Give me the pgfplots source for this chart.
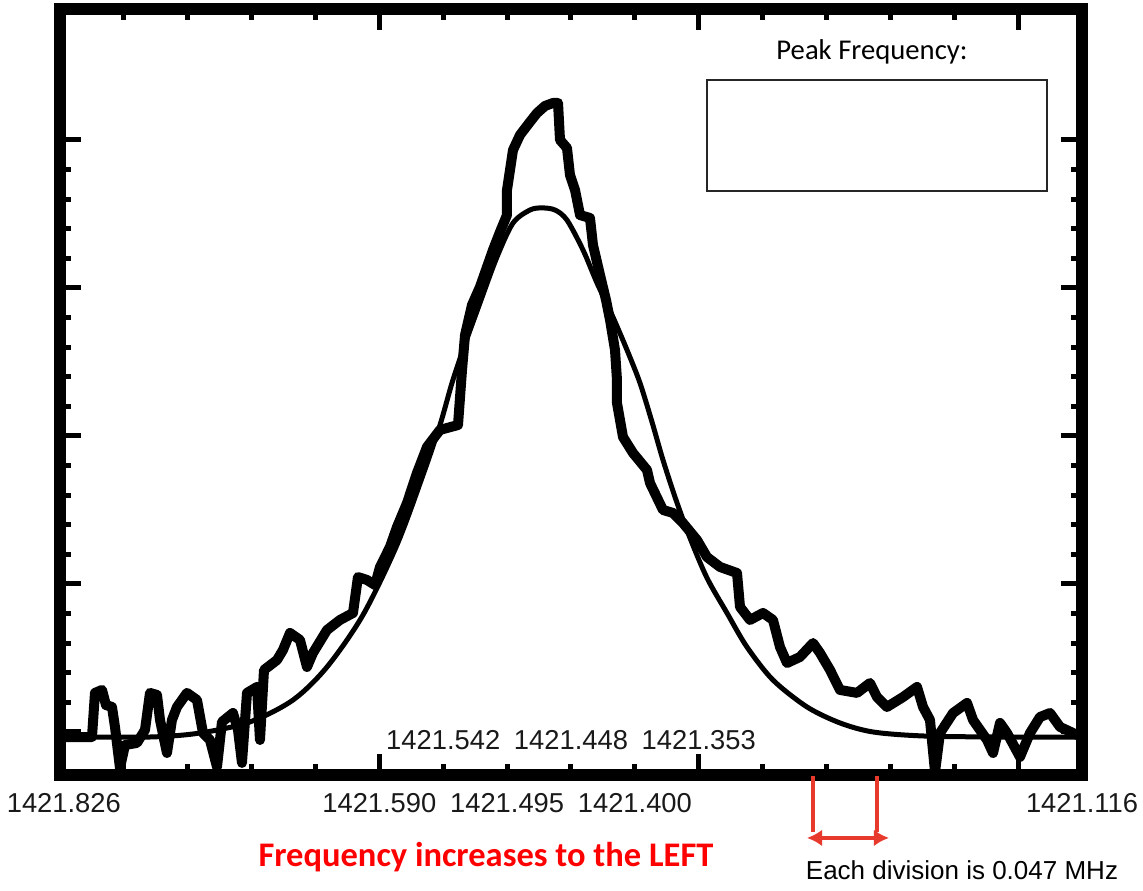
\documentclass[border=0pt]{standalone}
\usepackage{pgfplots}
\pgfplotsset{compat=1.18}
\usepackage{fontspec}
\setmainfont{Liberation Sans}
\newfontfamily\calibri{Carlito}
\usetikzlibrary{arrows.meta}
\definecolor{annred}{RGB}{255,0,0}
\definecolor{arrowred}{RGB}{232,58,44}
\begin{document}
\begin{tikzpicture}
\begin{axis}[
  scale only axis, width=306.6pt, height=229.8pt,
  xmin=0, xmax=16, ymin=-0.291, ymax=4.885,
  xtick={0,5,10,15}, minor x tick num=4,
  ytick={0,1,2,3,4}, minor y tick num=4,
  xticklabels={}, yticklabels={},
  axis line style={line width=3.6pt},
  major tick length=6.3pt, minor tick length=3.3pt,
  tick style={black, line width=1.5pt},
  clip=false,
]
% fitted curve
\addplot[black, line width=1.5pt, smooth] coordinates {
(0,-0.034) (1.409,-0.034) (2.192,-0.007) (2.975,0.068) (3.648,0.216) (4.180,0.439)
(4.744,0.791) (5.276,1.264) (5.683,1.736) (5.949,2.074) (6.137,2.358) (6.309,2.581)
(6.575,2.899) (6.841,3.209) (7.092,3.439) (7.358,3.527) (7.546,3.541) (7.750,3.527)
(7.937,3.459) (8.188,3.257) (8.407,3.034) (8.642,2.818) (8.877,2.581) (9.080,2.358)
(9.268,2.095) (9.440,1.838) (9.644,1.568) (9.863,1.311) (10.129,1.041) (10.442,0.804)
(10.755,0.574) (11.162,0.351) (11.695,0.169) (12.211,0.061) (12.728,0.000)
(13.511,-0.027) (14.716,-0.034) (16.0,-0.034)
};
% measured spectrum
\addplot[black, line width=3pt, line join=round] coordinates {
(0,-0.034) (0.501,-0.034) (0.548,0.264) (0.658,0.284) (0.720,0.182) (0.814,0.169)
(0.861,0.034) (0.939,-0.243) (1.018,-0.088) (1.205,-0.074) (1.331,0.014) (1.409,0.264)
(1.519,0.250) (1.566,0.081) (1.675,-0.142) (1.753,0.081) (1.832,0.169) (1.988,0.264)
(2.145,0.216) (2.239,-0.007) (2.348,-0.054) (2.458,-0.236) (2.536,0.068) (2.708,0.128)
(2.787,0.014) (2.849,-0.209) (2.928,0.264) (3.084,0.304) (3.131,-0.054) (3.194,0.419)
(3.397,0.486) (3.491,0.554) (3.601,0.669) (3.757,0.622) (3.867,0.439) (3.961,0.534)
(4.180,0.689) (4.384,0.757) (4.587,0.804) (4.665,1.047) (4.806,1.027) (4.932,0.993)
(5.010,1.115) (5.166,1.250) (5.276,1.385) (5.433,1.547) (5.589,1.750) (5.746,1.926)
(5.949,2.041) (6.231,2.074) (6.294,2.446) (6.341,2.682) (6.450,2.885) (6.575,3.007)
(6.779,3.257) (6.888,3.378) (6.998,3.493) (6.998,3.662) (7.092,3.932) (7.202,4.034)
(7.358,4.122) (7.468,4.182) (7.593,4.230) (7.718,4.250) (7.797,4.250) (7.828,4.000)
(7.937,3.946) (7.984,3.764) (8.063,3.662) (8.141,3.493) (8.297,3.473) (8.344,3.291)
(8.454,3.088) (8.548,2.919) (8.611,2.784) (8.689,2.581) (8.720,2.378) (8.720,2.223)
(8.814,1.993) (8.971,1.885) (9.190,1.770) (9.237,1.682) (9.440,1.500) (9.597,1.480)
(9.753,1.412) (9.973,1.297) (10.129,1.182) (10.333,1.115) (10.599,1.074) (10.646,0.845)
(10.802,0.757) (11.006,0.804) (11.162,0.757) (11.272,0.574) (11.382,0.466) (11.585,0.507)
(11.789,0.601) (11.898,0.534) (12.055,0.419) (12.211,0.284) (12.478,0.264) (12.681,0.331)
(12.791,0.236) (12.947,0.169) (13.198,0.236) (13.417,0.304) (13.511,0.169) (13.620,0.081)
(13.699,-0.270) (13.777,-0.007) (13.981,0.128) (14.200,0.196) (14.294,0.081) (14.513,-0.054)
(14.607,-0.142) (14.716,0.061) (14.826,-0.007) (15.029,-0.169) (15.186,-0.007) (15.342,0.101)
(15.499,0.128) (15.656,0.034) (15.859,-0.007) (16.0,-0.034)
};
% frequency labels
\begin{scope}[every node/.style={font=\fontsize{8.2}{9.5}\selectfont, inner sep=0pt, text=black!90}]
\node at (axis cs:0.06,-0.480) {1421.826};
\node at (axis cs:5,-0.480) {1421.590};
\node at (axis cs:7,-0.480) {1421.495};
\node at (axis cs:9,-0.480) {1421.400};
\node at (axis cs:16,-0.480) {1421.116};
\node at (axis cs:6,-0.054) {1421.542};
\node at (axis cs:8,-0.054) {1421.448};
\node at (axis cs:10,-0.054) {1421.353};
\end{scope}
% peak frequency box
\node[font=\calibri\fontsize{8.6}{10}\selectfont, inner sep=0pt] at (axis cs:12.712,4.595) {Peak Frequency:};
\draw[line width=0.5pt, black!85] (axis cs:10.129,4.405) rectangle (axis cs:15.452,3.655);
% annotations
\node[font=\calibri\bfseries\fontsize{10.35}{12}\selectfont, text=annred, inner sep=0pt] at (axis cs:6.669,-0.845) {Frequency increases to the LEFT};
\node[font=\fontsize{7.8}{9}\selectfont, inner sep=0pt] at (axis cs:14.121,-0.932) {Each division is 0.047 MHz};
\draw[arrowred, line width=1.2pt] (axis cs:11.789,-0.297) -- (axis cs:11.789,-0.676);
\draw[arrowred, line width=1.2pt] (axis cs:12.791,-0.297) -- (axis cs:12.791,-0.676);
\draw[arrowred, line width=1.2pt, {Latex[length=4.5pt,width=5pt]}-{Latex[length=4.5pt,width=5pt]}] (axis cs:11.695,-0.716) -- (axis cs:12.978,-0.716);
% picture extent
\path (axis cs:-0.939,-1.074) rectangle (axis cs:16.955,4.946);
\end{axis}
\end{tikzpicture}
\end{document}
